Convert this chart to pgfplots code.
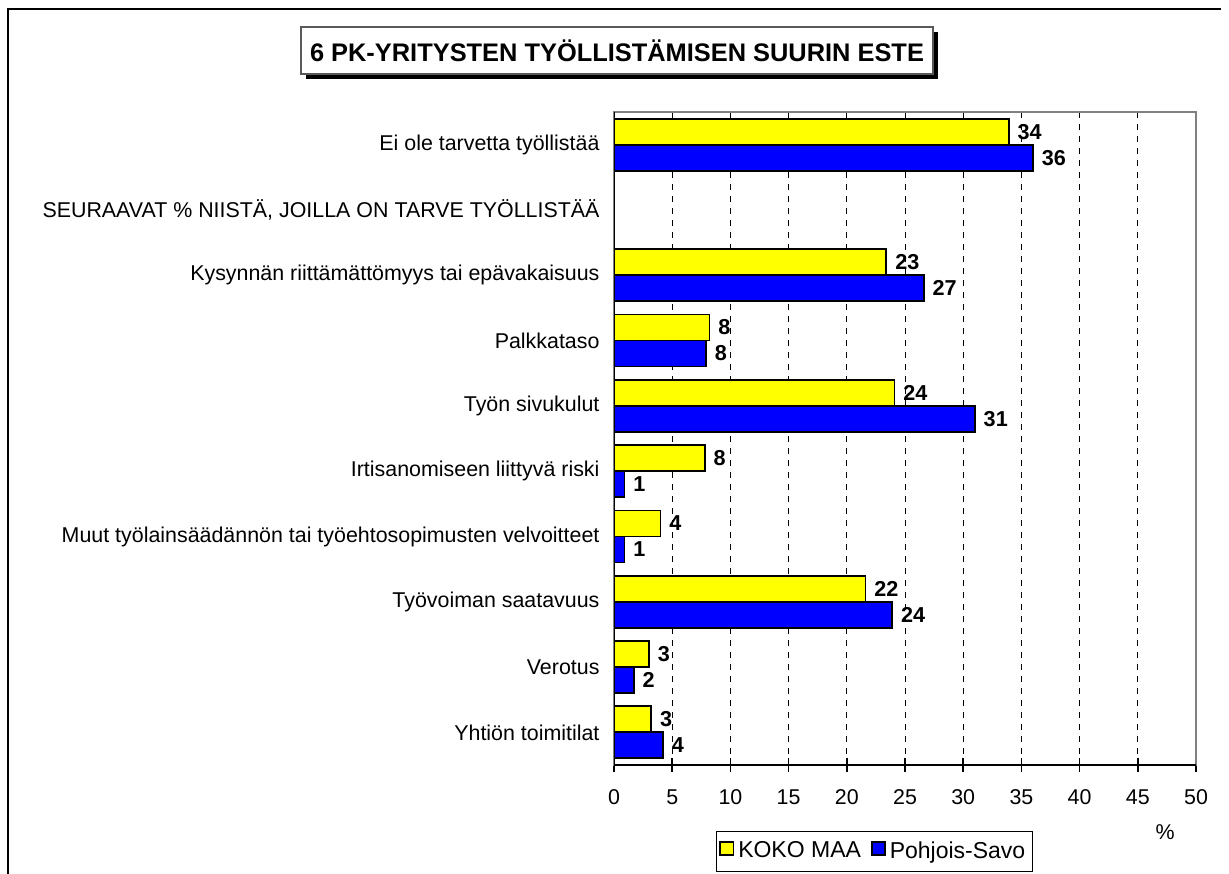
\documentclass[border=0pt]{standalone}
\usepackage{fontspec}
\setmainfont{Liberation Sans}
\usepackage{pgfplots}
\pgfplotsset{compat=1.18}
\definecolor{xlyellow}{RGB}{255,255,0}
\definecolor{xlblue}{RGB}{0,0,255}
\begin{document}
\fontsize{10.7}{13}\selectfont
\begin{tikzpicture}
\begin{scope}[x=0.5pt,y=-0.5pt]
\useasboundingbox (0,0) rectangle (1229,873);
\draw[line width=1pt] (8,880) -- (8,9) -- (1221,9);
\fill[black] (306,32) rectangle (938,79);
\draw[fill=white, draw=gray!70!black, line width=0.6pt] (301,27) rectangle (933,74);
\node[font=\fontsize{12.7}{15}\selectfont\bfseries] at (617,51) {6 PK-YRITYSTEN TYÖLLISTÄMISEN SUURIN ESTE};
\node at (1165,832) {\%};
\end{scope}
\begin{axis}[
  at={(307pt,-382.5pt)}, anchor=south west,
  scale only axis, width=291pt, height=326.5pt,
  xbar=0pt, bar width=13pt,
  xmin=0, xmax=50, ymin=-0.5, ymax=9.5, y dir=reverse,
  xtick={0,5,...,50}, xtick pos=bottom,
  tick align=center, major tick length=7pt,
  tick style={black, line width=0.8pt},
  ytick={0,...,9},
  yticklabels={Ei ole tarvetta työllistää,
    {SEURAAVAT \% NIISTÄ, JOILLA ON TARVE TYÖLLISTÄÄ},
    Kysynnän riittämättömyys tai epävakaisuus,
    Palkkataso,
    Työn sivukulut,
    Irtisanomiseen liittyvä riski,
    Muut työlainsäädännön tai työehtosopimusten velvoitteet,
    Työvoiman saatavuus,
    Verotus,
    Yhtiön toimitilat},
  ytick style={draw=none},
  yticklabel style={font=\fontsize{10.7}{13}\selectfont},
  xticklabel style={font=\fontsize{10.7}{13}\selectfont, yshift=-5pt},
  /pgf/number format/assume math mode=true,
  xmajorgrids,
  major grid style={black, line width=0.5pt, dash pattern=on 3pt off 3pt},
  axis line style={draw=gray, line width=1pt},
  point meta=explicit symbolic,
  nodes near coords,
  every node near coord/.append style={font=\fontsize{10.8}{13}\selectfont\bfseries, black, anchor=west, inner xsep=4pt},
  legend columns=2,
  legend style={at={(0.175,-0.101)}, anchor=north west, draw=black, line width=0.6pt,
    font=\fontsize{11.5}{13.5}\selectfont, inner xsep=1.5pt, inner ysep=3pt,
    /tikz/every odd column/.append style={column sep=0pt},
    /tikz/every even column/.append style={column sep=3pt}},
  legend image code/.code={\draw[#1, line width=0.8pt] (0pt,-1.8pt) rectangle (6.6pt,4.8pt);},
]
\addplot[fill=xlyellow, draw=black, line width=0.9pt, bar shift=6.5pt] coordinates {
  (33.9,0) [34]
  (23.4,2) [23]
  (8.2,3) [8]
  (24.1,4) [24]
  (7.8,5) [8]
  (4.0,6) [4]
  (21.6,7) [22]
  (3.0,8) [3]
  (3.2,9) [3]
};
\addplot[fill=xlblue, draw=black, line width=0.9pt, bar shift=-6.5pt] coordinates {
  (36.0,0) [36]
  (26.6,2) [27]
  (7.9,3) [8]
  (31.0,4) [31]
  (0.9,5) [1]
  (0.9,6) [1]
  (23.9,7) [24]
  (1.7,8) [2]
  (4.2,9) [4]
};
\legend{KOKO MAA, Pohjois-Savo}
\draw[black, line width=1pt] (axis cs:0,-0.5) -- (axis cs:0,9.5) -- (axis cs:50,9.5);
\end{axis}
\end{tikzpicture}
\end{document}
